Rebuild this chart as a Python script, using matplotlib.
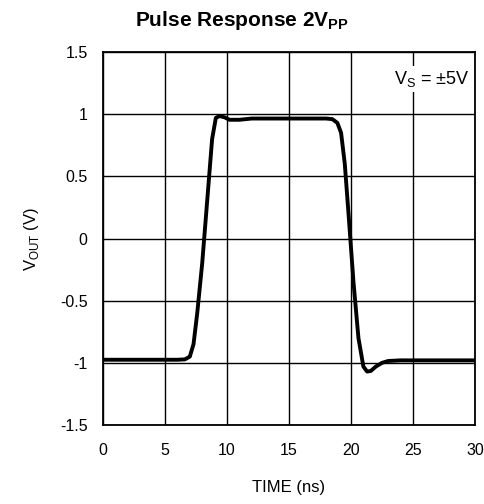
import matplotlib
matplotlib.use("Agg")
import matplotlib.pyplot as plt
import numpy as np

time_ns = [0, 2, 4, 5, 6, 6.6, 7.0, 7.3, 7.6, 8.0, 8.4, 8.8, 9.1, 9.4, 9.8, 10.2, 11, 12, 14, 16, 18, 18.5, 18.9, 19.2, 19.5, 19.8, 20.2, 20.6, 21.0, 21.3, 21.6, 22.0, 22.5, 23.0, 24, 26, 28, 30]
vout_v = [-0.975, -0.975, -0.975, -0.975, -0.975, -0.972, -0.95, -0.85, -0.60, -0.20, 0.30, 0.80, 0.97, 0.985, 0.975, 0.955, 0.955, 0.965, 0.965, 0.965, 0.965, 0.96, 0.93, 0.85, 0.60, 0.20, -0.35, -0.80, -1.03, -1.07, -1.065, -1.03, -1.0, -0.985, -0.98, -0.98, -0.98, -0.98]

xticks = [0, 5, 10, 15, 20, 25, 30]
yticks = [-1.5, -1, -0.5, 0, 0.5, 1, 1.5]
ytick_labels = ["-1.5", "-1", "-0.5", "0", "0.5", "1", "1.5"]

plt.rcParams['font.family'] = ['Liberation Sans', 'DejaVu Sans']
fig = plt.figure(figsize=(4.84, 5.04), dpi=100)
ax = fig.add_axes([0.2128, 0.1567, 0.7686, 0.7401])
ax.plot(time_ns, vout_v, color='black', lw=2.8, solid_joinstyle='round')
ax.set_xlim(0, 30)
ax.set_ylim(-1.5, 1.5)
ax.set_xticks(xticks)
ax.set_yticks(yticks)
ax.set_yticklabels(ytick_labels)
ax.grid(True, color='black', lw=1.0)
for s in ax.spines.values():
    s.set_linewidth(1.3)
ax.tick_params(length=0, labelsize=11.5)
ax.tick_params(axis='x', pad=13)
ax.tick_params(axis='y', pad=11)
ax.set_xlabel('TIME (ns)', fontsize=12, labelpad=16)
ax.set_ylabel(r'V$_{\mathregular{OUT}}$ (V)', fontsize=12, labelpad=14)
ax.text(0.985, 0.955, r'V$_{\mathregular{S}}$ = ±5V', transform=ax.transAxes, ha='right', va='top', fontsize=13,
        bbox=dict(facecolor='white', edgecolor='none', pad=2))
fig.text(0.5, 0.96, r'Pulse Response 2V$_{\mathregular{PP}}$', ha='center', va='center', fontsize=15, fontweight='bold')
fig.savefig('out.png', dpi=100)
